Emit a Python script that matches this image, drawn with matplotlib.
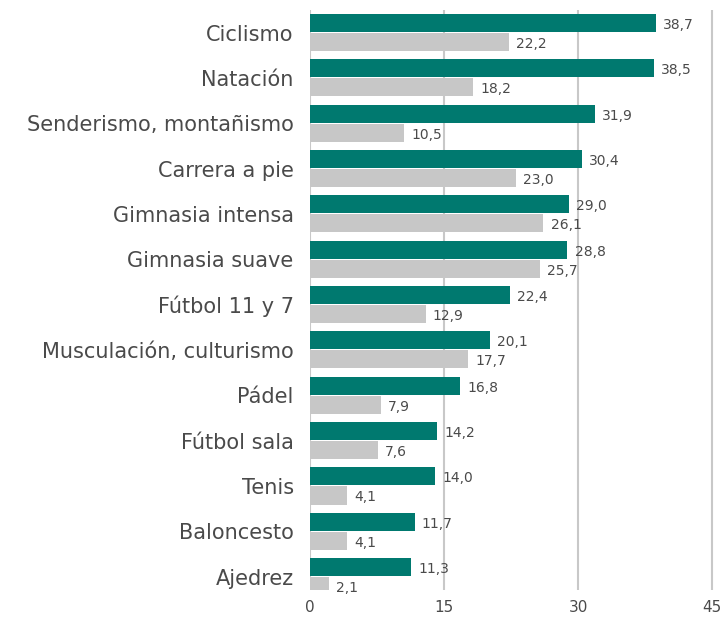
import matplotlib.pyplot as plt
import numpy as np

categories = ["Ciclismo", "Natación", "Senderismo, montañismo", "Carrera a pie",
              "Gimnasia intensa", "Gimnasia suave", "Fútbol 11 y 7",
              "Musculación, culturismo", "Pádel", "Fútbol sala", "Tenis",
              "Baloncesto", "Ajedrez"]
serie_a = [38.7, 38.5, 31.9, 30.4, 29.0, 28.8, 22.4, 20.1, 16.8, 14.2, 14.0, 11.7, 11.3]
serie_b = [22.2, 18.2, 10.5, 23.0, 26.1, 25.7, 12.9, 17.7, 7.9, 7.6, 4.1, 4.1, 2.1]
xticks = [0, 15, 30, 45]

teal = "#00796F"
grey = "#C7C7C7"
txt = "#4A4A4A"

fig = plt.figure(figsize=(7.25, 6.18), dpi=100)
ax = fig.add_axes([0.428, 0.045, 0.558, 0.939])

y = np.arange(len(categories))
h = 0.4
ax.barh(y - 0.21, serie_a, height=h, color=teal, zorder=3)
ax.barh(y + 0.21, serie_b, height=h, color=grey, zorder=3)

def fmt(v):
    return f"{v:.1f}".replace(".", ",")

for yi, a, b in zip(y, serie_a, serie_b):
    ax.text(a + 0.8, yi - 0.17, fmt(a), va="center", ha="left", fontsize=10, color=txt, zorder=4)
    ax.text(b + 0.8, yi + 0.25, fmt(b), va="center", ha="left", fontsize=10, color=txt, zorder=4)

ax.set_xlim(0, 45.3)
ax.set_ylim(12.3, -0.5)
ax.set_xticks(xticks)
ax.set_xticklabels([str(t) for t in xticks], fontsize=11, color=txt)
ax.set_yticks(y)
ax.set_yticklabels(categories, fontsize=15, color=txt)
for lbl in ax.get_yticklabels():
    lbl.set_y(lbl.get_position()[1])
ax.tick_params(axis="both", length=0)
ax.tick_params(axis="y", pad=12)
ax.tick_params(axis="x", pad=7)
ax.xaxis.grid(True, color="#C8C8C8", linewidth=1.5, zorder=0)
for s in ax.spines.values():
    s.set_visible(False)

fig.savefig("out.png", dpi=100)
